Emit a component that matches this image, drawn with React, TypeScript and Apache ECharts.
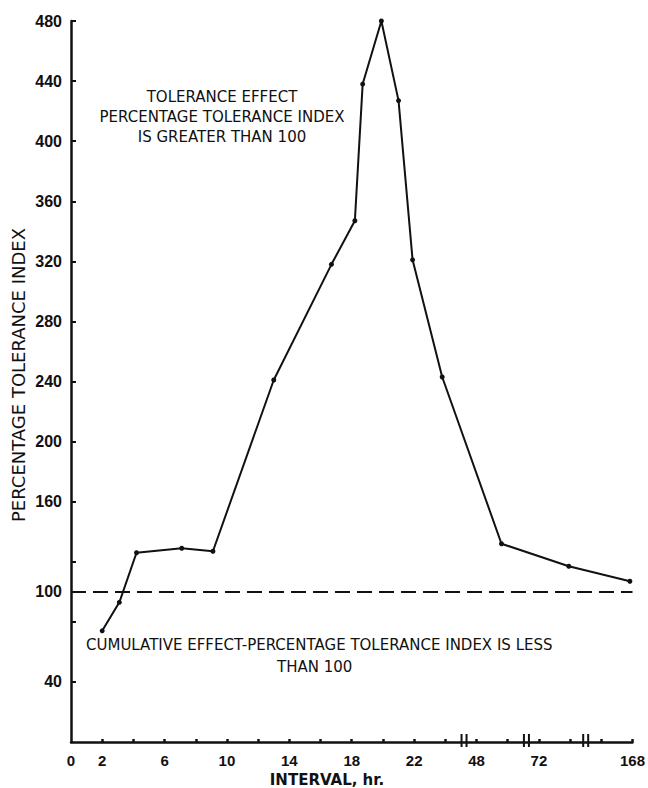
import React, { useEffect, useRef } from "react";
import * as echarts from "echarts";

// x axis: evenly spaced ticks, each tick stands for these hours (broken scale after 24 h)
const tickHours = [0, 2, 4, 6, 8, 10, 12, 14, 16, 18, 20, 22, 24, 48, 60, 72, 96, 144, 168];
const xLabelHours = [0, 2, 6, 10, 14, 18, 22, 48, 72, 168];
const breakHours = [38.4, 67.2, 120];

// y axis
const yTickValues = [40, 80, 100, 120, 160, 200, 240, 280, 320, 360, 400, 440, 480];
const yLabelValues = [40, 100, 160, 200, 240, 280, 320, 360, 400, 440, 480];

// series
const hours = [2, 3.1, 4.2, 7.1, 9.1, 13, 16.7, 18.2, 18.7, 19.9, 21, 21.9, 23.8, 57.6, 95, 166];
const toleranceIndex = [74, 93, 126, 129, 127, 241, 318, 347, 438, 480, 427, 321, 243, 132, 117, 107];
const referenceLevel = 100;

function toIdx(h: number): number {
  for (let i = 0; i < tickHours.length - 1; i++) {
    const a = tickHours[i];
    const b = tickHours[i + 1];
    if (h >= a && h <= b) return i + (h - a) / (b - a);
  }
  return tickHours.length - 1;
}

function idxToLabel(v: number): string {
  const i = Math.round(v);
  if (Math.abs(v - i) > 1e-6) return "";
  return String(tickHours[i]);
}

export default function App() {
  const ref = useRef<HTMLDivElement>(null);
  useEffect(() => {
    document.body.style.margin = "0";
    const chart = echarts.init(ref.current!, null, { renderer: "svg" });
    const black = "#111";
    const labelFont = "Liberation Sans";
    const option: any = {
      animation: false,
      backgroundColor: "#fff",
      grid: { left: 71, right: 12, top: 21, bottom: 46 },
      xAxis: {
        type: "value",
        min: 0,
        max: tickHours.length - 1,
        interval: 1,
        axisLine: { show: true, lineStyle: { color: black, width: 2.5 } },
        axisTick: {
          show: true,
          inside: true,
          length: 3,
          lineStyle: { color: black, width: 2.5 },
          customValues: tickHours.map((_, i) => i).slice(1),
        },
        axisLabel: {
          color: black,
          fontFamily: labelFont,
          fontWeight: "bold",
          fontSize: 15,
          margin: 11,
          customValues: xLabelHours.map((h) => toIdx(h)),
          formatter: (v: number) => idxToLabel(v),
        },
        splitLine: { show: false },
      },
      yAxis: {
        type: "value",
        min: 0,
        max: 480,
        interval: 40,
        axisLine: { show: true, lineStyle: { color: black, width: 2.5 } },
        axisTick: {
          show: true,
          inside: true,
          length: 5,
          lineStyle: { color: black, width: 2 },
          customValues: yTickValues,
        },
        axisLabel: {
          color: black,
          fontFamily: labelFont,
          fontWeight: "bold",
          fontSize: 16,
          margin: 9,
          customValues: yLabelValues,
        },
        splitLine: { show: false },
      },
      series: [
        {
          type: "line",
          data: hours.map((h, i) => [toIdx(h), toleranceIndex[i]]),
          symbol: "circle",
          symbolSize: 5,
          itemStyle: { color: black },
          lineStyle: { color: black, width: 2 },
          z: 3,
          markLine: {
            silent: true,
            symbol: "none",
            label: { show: false },
            lineStyle: { color: black, width: 2, type: [15, 7] },
            data: [{ yAxis: referenceLevel }],
          },
        },
        {
          type: "custom",
          clip: false,
          z: 5,
          data: breakHours.map((h) => [toIdx(h), 0]),
          renderItem: (params: any, api: any) => {
            const p = api.coord([api.value(0), api.value(1)]);
            return {
              type: "group",
              children: [
                {
                  type: "rect",
                  shape: { x: p[0] - 4, y: p[1] - 6, width: 8, height: 4 },
                  style: { fill: "#fff" },
                },
                {
                  type: "line",
                  shape: { x1: p[0] - 2.5, y1: p[1] - 8, x2: p[0] - 2.5, y2: p[1] + 5 },
                  style: { stroke: black, lineWidth: 2 },
                },
                {
                  type: "line",
                  shape: { x1: p[0] + 2.5, y1: p[1] - 8, x2: p[0] + 2.5, y2: p[1] + 5 },
                  style: { stroke: black, lineWidth: 2 },
                },
              ],
            };
          },
        },
      ],
      graphic: [
        {
          type: "text",
          x: 18,
          y: 375,
          rotation: Math.PI / 2,
          style: {
            text: "PERCENTAGE TOLERANCE INDEX",
            fill: black,
            font: "18px 'DejaVu Sans'",
            align: "center",
            verticalAlign: "middle",
          },
        },
        {
          type: "text",
          x: 327,
          y: 780,
          style: {
            text: "INTERVAL, hr.",
            fill: black,
            font: "bold 15px 'DejaVu Sans'",
            align: "center",
            verticalAlign: "middle",
          },
        },
        {
          type: "text",
          x: 222,
          y: 117,
          style: {
            text: "TOLERANCE EFFECT\nPERCENTAGE TOLERANCE INDEX\nIS GREATER THAN 100",
            fill: black,
            font: "15px 'DejaVu Sans'",
            lineHeight: 20,
            align: "center",
            verticalAlign: "middle",
          },
        },
        {
          type: "text",
          x: 86,
          y: 645,
          style: {
            text: "CUMULATIVE EFFECT-PERCENTAGE TOLERANCE INDEX IS LESS",
            fill: black,
            font: "15px 'DejaVu Sans'",
            align: "left",
            verticalAlign: "middle",
          },
        },
        {
          type: "text",
          x: 277,
          y: 667,
          style: {
            text: "THAN 100",
            fill: black,
            font: "15px 'DejaVu Sans'",
            align: "left",
            verticalAlign: "middle",
          },
        },
      ],
    };
    chart.setOption(option);
    return () => chart.dispose();
  }, []);
  return <div ref={ref} style={{ width: 648, height: 788 }} />;
}
